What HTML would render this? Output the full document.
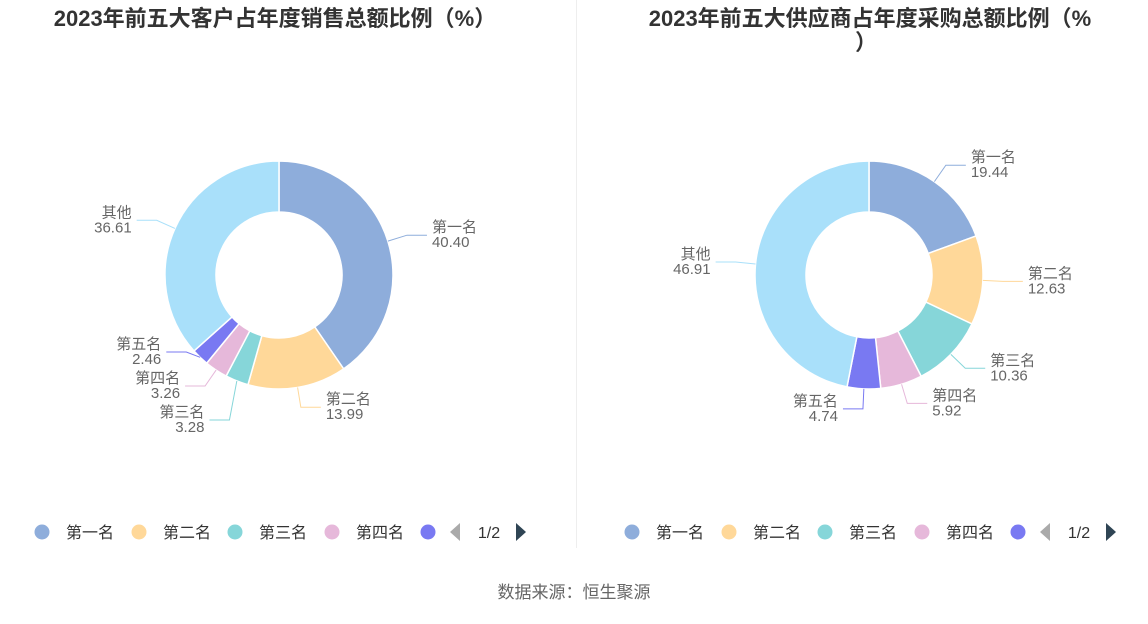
<!DOCTYPE html>
<html><head><meta charset="utf-8">
<style>
html,body{margin:0;padding:0;background:#fff;}
body{width:1148px;height:619px;overflow:hidden;font-family:"Liberation Sans","Noto Sans CJK SC",sans-serif;}
</style></head>
<body>
<svg id="chart" width="1148" height="619" xmlns="http://www.w3.org/2000/svg" font-family="Liberation Sans, Noto Sans CJK SC, sans-serif">
  <line x1="576.5" y1="0" x2="576.5" y2="548" stroke="#eeeeee" stroke-width="1"/>
  <text x="275" y="26" text-anchor="middle" font-size="22" font-weight="bold" fill="#333">2023年前五大客户占年度销售总额比例（%）</text>
  <text x="870" y="26" text-anchor="middle" font-size="22" font-weight="bold" fill="#333">2023年前五大供应商占年度采购总额比例（%</text>
  <text x="866" y="50" text-anchor="middle" font-size="22" font-weight="bold" fill="#333">）</text>
  <g id="left"></g>
  <g id="right"></g>
  <g id="legL"></g>
  <g id="legR"></g>
  <text x="574" y="598" text-anchor="middle" font-size="17" fill="#666">数据来源：恒生聚源</text>
</svg>
<script>
const categories = ["第一名","第二名","第三名","第四名","第五名","其他"];
const customerValues = [40.40,13.99,3.28,3.26,2.46,36.61];
const supplierValues = [19.44,12.63,10.36,5.92,4.74,46.91];
const colors = ["#8eaddb","#ffd899","#86d6d9","#e6b8da","#7979f2","#a9e0fa"];
const NS = "http://www.w3.org/2000/svg";
function mk(tag, attrs, parent){const e=document.createElementNS(NS,tag);for(const k in attrs)e.setAttribute(k,attrs[k]);parent.appendChild(e);return e;}
function pt(cx,cy,r,a){return [cx+r*Math.sin(a), cy-r*Math.cos(a)];}

function donut(g, values, cx, cy){
  const R=114, r0=63, total=values.reduce((a,b)=>a+b,0);
  let acc=0; const labels=[];
  values.forEach((v,i)=>{
    const a0=acc/total*2*Math.PI; acc+=v; const a1=acc/total*2*Math.PI;
    const large=(a1-a0)>Math.PI?1:0;
    const p1=pt(cx,cy,R,a0),p2=pt(cx,cy,R,a1),p3=pt(cx,cy,r0,a1),p4=pt(cx,cy,r0,a0);
    const path=mk("path",{d:`M${p1[0]},${p1[1]} A${R},${R} 0 ${large} 1 ${p2[0]},${p2[1]} L${p3[0]},${p3[1]} A${r0},${r0} 0 ${large} 0 ${p4[0]},${p4[1]} Z`,fill:colors[i],stroke:"#fff","stroke-width":1.5},g);
    
    
    const am=(a0+a1)/2;
    const s=pt(cx,cy,R,am), e=pt(cx,cy,R+20,am);
    labels.push({i,v,am,s,e,y:e[1],right:Math.sin(am)>=0});
  });
  [true,false].forEach(side=>{
    const L=labels.filter(l=>l.right===side).sort((a,b)=>a.y-b.y);
    for(let it=0;it<50;it++){
      for(let k=1;k<L.length;k++){
        const d=L[k].y-L[k-1].y;
        if(d<34){const sh=(34-d)/2;L[k].y+=sh;L[k-1].y-=sh;}
      }
    }
  });
  labels.forEach(l=>{
    const dir=l.right?1:-1;
    const ex=l.e[0], ey=l.y, hx=ex+dir*20;
    const pl=mk("polyline",{points:`${l.s[0]},${l.s[1]} ${ex},${ey} ${hx},${ey}`,fill:"none",stroke:colors[l.i],"stroke-width":1},g);
    
    
    const anchor=l.right?"start":"end", tx=hx+dir*5;
    const t1=mk("text",{x:tx,y:ey-3,"text-anchor":anchor,"font-size":15,fill:"#666"},g);
    t1.textContent=categories[l.i];
    
    
    const t2=mk("text",{x:tx,y:ey+12,"text-anchor":anchor,"font-size":15,fill:"#666"},g);
    t2.textContent=l.v.toFixed(2);
    
    
  });
}

function legend(g, ox){
  const xs=[42,139,235,332,428];
  xs.forEach((x,i)=>{
    const c=mk("circle",{cx:ox+x,cy:532,r:7.5,fill:colors[i]},g);
    
    
    if(i<4){
      const t=mk("text",{x:ox+x+24,y:538,"font-size":16,fill:"#333"},g);
      t.textContent=categories[i];
      
      
    }
  });
  const prev=mk("polygon",{points:`${ox+450},532 ${ox+460},523 ${ox+460},541`,fill:"#aaa"},g);
  
  
  const pg=mk("text",{x:ox+489,y:538,"text-anchor":"middle","font-size":16,fill:"#333"},g);
  pg.textContent="1/2";
  
  
  const next=mk("polygon",{points:`${ox+516},523 ${ox+526},532 ${ox+516},541`,fill:"#2f4554"},g);
  
  
}

donut(document.getElementById("left"), customerValues, 279, 275);
donut(document.getElementById("right"), supplierValues, 869, 275);
legend(document.getElementById("legL"), 0);
legend(document.getElementById("legR"), 590);
</script>
</body></html>
